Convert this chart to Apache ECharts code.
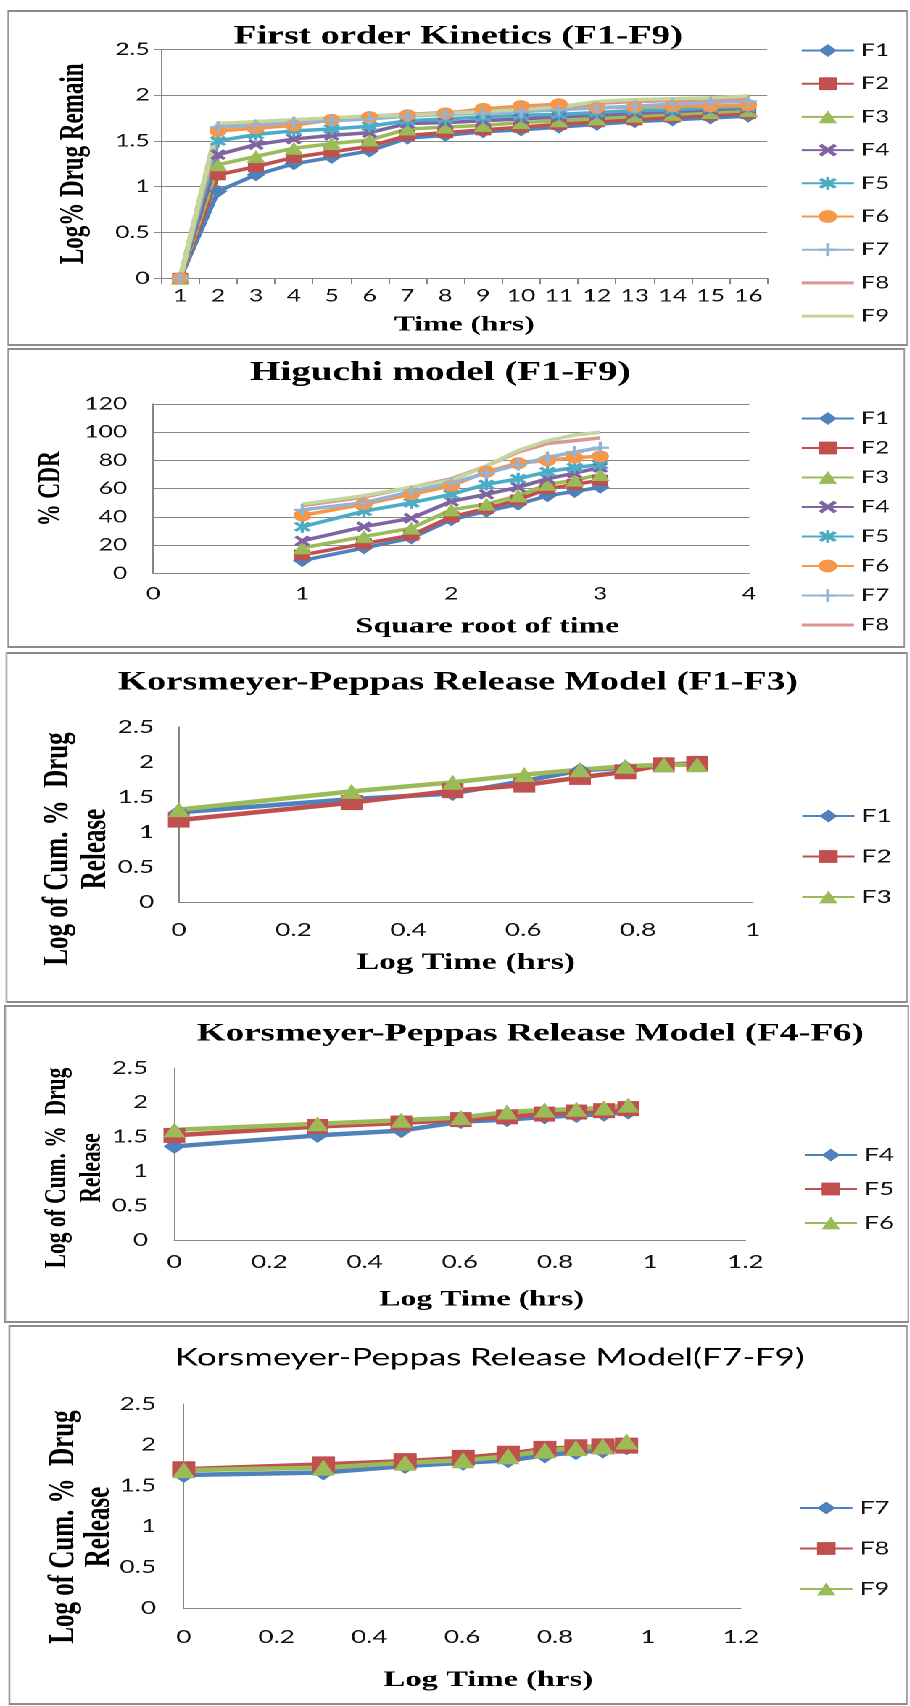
<!DOCTYPE html>
<html>
<head>
<meta charset="utf-8">
<script src="https://cdn.jsdelivr.net/npm/echarts@6/dist/echarts.min.js"></script>
<style>
html,body{margin:0;padding:0;background:#fff;width:910px;height:1706px;overflow:hidden;}
#wrap{position:absolute;left:0;top:0;height:1706px;transform-origin:0 0;}
.panel{position:absolute;box-sizing:border-box;border-style:solid;border-color:#8c8c8c;border-width:2px 1.4px;pointer-events:none;}
</style>
</head>
<body>
<div id="wrap"></div>
<script>
// ---------------- DATA ----------------
const seriesNames = ['F1','F2','F3','F4','F5','F6','F7','F8','F9'];

// First order kinetics: time (hrs) categories
const timeHours = ['1','2','3','4','5','6','7','8','9','10','11','12','13','14','15','16'];
const firstF1 = [0, 0.95, 1.13, 1.25, 1.32, 1.39, 1.53, 1.56, 1.60, 1.62, 1.65, 1.68, 1.71, 1.73, 1.75, 1.77];
const firstF2 = [0, 1.13, 1.22, 1.32, 1.38, 1.44, 1.56, 1.59, 1.62, 1.65, 1.68, 1.71, 1.73, 1.76, 1.78, 1.80];
const firstF3 = [0, 1.24, 1.33, 1.42, 1.47, 1.51, 1.63, 1.65, 1.67, 1.70, 1.72, 1.74, 1.77, 1.79, 1.81, 1.83];
const firstF4 = [0, 1.35, 1.46, 1.52, 1.56, 1.59, 1.69, 1.70, 1.72, 1.74, 1.76, 1.78, 1.80, 1.82, 1.84, 1.86];
const firstF5 = [0, 1.50, 1.57, 1.61, 1.63, 1.66, 1.72, 1.74, 1.76, 1.78, 1.79, 1.81, 1.83, 1.84, 1.86, 1.87];
const firstF6 = [0, 1.61, 1.64, 1.67, 1.73, 1.76, 1.78, 1.80, 1.85, 1.88, 1.90, 1.86, 1.87, 1.88, 1.88, 1.89];
const firstF7 = [0, 1.65, 1.67, 1.70, 1.72, 1.74, 1.77, 1.79, 1.80, 1.82, 1.84, 1.86, 1.88, 1.90, 1.92, 1.93];
const firstF8 = [0, 1.68, 1.71, 1.73, 1.75, 1.77, 1.79, 1.81, 1.83, 1.86, 1.88, 1.91, 1.93, 1.94, 1.95, 1.96];
const firstF9 = [0, 1.69, 1.71, 1.73, 1.75, 1.77, 1.78, 1.80, 1.82, 1.84, 1.87, 1.93, 1.95, 1.96, 1.97, 1.99];

// Higuchi model: square root of time vs % CDR
const sqrtTime = [1, 1.414, 1.732, 2, 2.236, 2.449, 2.646, 2.828, 3];
const higF1 = [9, 18, 25, 38, 44, 49, 55, 58, 61];
const higF2 = [13, 21, 27, 40, 46, 52, 60, 63, 66];
const higF3 = [18, 26, 32, 45, 49, 55, 63, 66, 70];
const higF4 = [23, 33, 39, 51, 56, 61, 67, 71, 75];
const higF5 = [33, 44, 50, 56, 63, 67, 72, 75, 77];
const higF6 = [41, 49, 56, 62, 72, 78, 80, 82, 83];
const higF7 = [45, 50, 58, 64, 71, 77, 82, 86, 89];
const higF8 = [48, 54, 61, 67, 76, 86, 92, 94, 96];
const higF9 = [49, 55, 61, 66, 76, 87, 94, 98, 100];

// Korsmeyer-Peppas: log time vs log cumulative % drug release
const logTime8 = [0, 0.301, 0.477, 0.602, 0.699, 0.778, 0.845, 0.903];
const kpF1 = [1.28, 1.47, 1.55, 1.73, 1.88, 1.92, 1.96, 1.98];
const kpF2 = [1.17, 1.42, 1.59, 1.67, 1.78, 1.86, 1.96, 1.98];
const kpF3 = [1.32, 1.58, 1.71, 1.82, 1.89, 1.94, 1.96, 1.96];
const logTime9 = [0, 0.301, 0.477, 0.602, 0.699, 0.778, 0.845, 0.903, 0.954];
const kpF4 = [1.36, 1.52, 1.59, 1.72, 1.75, 1.79, 1.81, 1.83, 1.86];
const kpF5 = [1.52, 1.65, 1.70, 1.75, 1.79, 1.83, 1.86, 1.88, 1.91];
const kpF6 = [1.60, 1.69, 1.74, 1.78, 1.86, 1.89, 1.90, 1.92, 1.96];
const kpF7 = [1.63, 1.66, 1.74, 1.78, 1.81, 1.87, 1.91, 1.93, 1.97];
const kpF8 = [1.70, 1.76, 1.80, 1.84, 1.89, 1.95, 1.97, 1.98, 1.99];
const kpF9 = [1.69, 1.72, 1.78, 1.81, 1.86, 1.93, 1.96, 1.98, 2.04];

// ---------------- STYLE ----------------
const S = 1.45;              // horizontal stretch of the original figure
const COLORS9 = ['#4F81BD','#C0504D','#9BBB59','#8064A2','#4BACC6','#F79646','#95B3D7','#D99694','#C3D69B'];
const COLORS3 = ['#4F81BD','#C0504D','#9BBB59'];
const XPATH = 'path://M0,1.8L1.8,0L5,3.2L8.2,0L10,1.8L6.8,5L10,8.2L8.2,10L5,6.8L1.8,10L0,8.2L3.2,5Z';
const STARPATH = 'path://M0,1.8L1.8,0L5,3.2L8.2,0L10,1.8L6.8,5L10,8.2L8.2,10L5,6.8L1.8,10L0,8.2L3.2,5Z M4.1,-1H5.9V11H4.1Z';
const PLUSPATH = 'path://M4.1,0H5.9V4.1H10V5.9H5.9V10H4.1V5.9H0V4.1H4.1Z';
const LINEICON = 'path://M0,0H12V1H0Z';
const SYMS9 = ['diamond','rect','triangle',XPATH,STARPATH,'circle',PLUSPATH,'none','none'];
const SIZES9 = [13, 11, 13, 11, 12, 12, 12, 0, 0];
const SYMS3 = ['diamond','rect','triangle'];
const GRAY = '#868686';
const SERIF = '"Liberation Serif", "Times New Roman", serif';
const SANS = 'Lato, "Noto Sans", sans-serif';

const wrap = document.getElementById('wrap');
wrap.style.width = (910 / S) + 'px';
wrap.style.transform = 'scaleX(' + S + ')';

const mctx = document.createElement('canvas').getContext('2d');
function textWidth(text, weight, size, family) {
  mctx.font = weight + ' ' + size + 'px ' + family;
  return mctx.measureText(text).width;
}

function makePanel(box, build) {
  const pos = 'left:' + (box.x0 / S) + 'px;top:' + box.y0 + 'px;width:' + ((box.x1 - box.x0) / S) + 'px;height:' + (box.y1 - box.y0) + 'px;';
  const div = document.createElement('div');
  div.style.cssText = 'position:absolute;' + pos;
  wrap.appendChild(div);
  const border = document.createElement('div');
  border.className = 'panel';
  border.style.cssText = pos;
  wrap.appendChild(border);
  const lx = x => (x - box.x0) / S;
  const ly = y => y - box.y0;
  const chart = echarts.init(div, null, { renderer: 'canvas', devicePixelRatio: 2 });
  chart.setOption(build(lx, ly));
}

function titleOpt(text, cx, cy, weight, size, family, lx, ly) {
  const w = textWidth(text, weight, size, family);
  const lh = Math.round(size * 1.2);
  return {
    text: text, left: lx(cx) - w / 2, top: ly(cy) - lh / 2, padding: 0,
    textStyle: { fontFamily: family, fontWeight: weight, fontSize: size, color: '#000', lineHeight: lh }
  };
}
function gridOpt(pl, pt, pr, pb, lx, ly) {
  return { left: lx(pl), top: ly(pt), width: (pr - pl) / S, height: pb - pt, containLabel: false };
}
function legendOpt(names, noMarker, left, top, gap, fs) {
  return {
    show: true, orient: 'vertical', left: left, top: top, itemWidth: 36, itemHeight: 16, itemGap: gap,
    selectedMode: false, padding: 0,
    data: names.map(n => noMarker.indexOf(n) >= 0 ? { name: n, icon: LINEICON } : n),
    textStyle: { fontFamily: SANS, fontSize: fs, color: '#111', lineHeight: 16 }
  };
}
function lineSeries(name, color, symbol, data, size, lw) {
  return {
    type: 'line', name: name, data: data,
    symbol: symbol, showSymbol: symbol !== 'none', symbolSize: size,
    lineStyle: { color: color, width: lw }, itemStyle: { color: color },
    emphasis: { disabled: true }, z: 2
  };
}
function vText(text, x, y, size) {
  const font = 'bold ' + size + 'px ' + SERIF;
  return {
    type: 'text', x: x, y: y, rotation: Math.PI / 2, silent: true,
    style: { text: text, font: font, fill: '#000', align: 'center', verticalAlign: 'middle',
             textAlign: 'center', textVerticalAlign: 'middle' }
  };
}
function pairs(xs, ys) { return xs.map((x, i) => [x, ys[i]]); }
const labelStyle = (fs, margin) => ({ fontFamily: SANS, fontSize: fs, color: '#111', margin: margin, lineHeight: fs });
const nameStyle = (fs, lh, padding) => ({ fontFamily: SERIF, fontWeight: 'bold', fontSize: fs, color: '#000', lineHeight: lh, padding: padding || 0 });

// ---------------- PANEL 1: First order ----------------
const firstSeries = [firstF1, firstF2, firstF3, firstF4, firstF5, firstF6, firstF7, firstF8, firstF9];
makePanel({ x0: 7, y0: 10, x1: 908, y1: 346 }, (lx, ly) => {
  const pl = 161, pr = 767, pt = 49.3, pb = 278.3;
  return {
    animation: false,
    title: titleOpt('First order Kinetics (F1-F9)', 458, 37, 'bold', 26, SERIF, lx, ly),
    grid: gridOpt(pl, pt, pr, pb, lx, ly),
    legend: legendOpt(seriesNames, ['F8', 'F9'], lx(800), ly(50) - 8, 32.2 - 16, 17),
    xAxis: {
      type: 'category', data: timeHours, boundaryGap: true,
      axisLine: { show: true, lineStyle: { color: GRAY, width: 1 } },
      axisTick: { show: true, interval: 0, length: 6, lineStyle: { color: GRAY } },
      axisLabel: Object.assign({ interval: 0 }, labelStyle(17, 9)),
      splitLine: { show: false },
      name: 'Time (hrs)', nameLocation: 'middle', nameGap: 325 - pb - 11, nameTextStyle: nameStyle(21.5, 22)
    },
    yAxis: {
      type: 'value', min: 0, max: 2.5, interval: 0.5,
      axisLine: { show: true, lineStyle: { color: GRAY, width: 1 } },
      axisTick: { show: true, length: 5, lineStyle: { color: GRAY } },
      axisLabel: labelStyle(17, 8),
      splitLine: { show: true, lineStyle: { color: GRAY, width: 1 } },
      name: 'Log% Drug Remain', nameLocation: 'middle', nameRotate: 90,
      nameGap: (pl - 74) / S - 12, nameTextStyle: nameStyle(23, 24)
    },
    series: firstSeries.map((d, i) => lineSeries(seriesNames[i], COLORS9[i], SYMS9[i], d, SIZES9[i], 3.5))
  };
});

// ---------------- PANEL 2: Higuchi ----------------
const higSeries = [higF1, higF2, higF3, higF4, higF5, higF6, higF7, higF8, higF9];
makePanel({ x0: 7, y0: 348, x1: 905, y1: 648 }, (lx, ly) => {
  const pl = 153, pr = 749, pt = 404, pb = 573.3;
  return {
    animation: false,
    title: titleOpt('Higuchi model (F1-F9)', 440, 373, 'bold', 27, SERIF, lx, ly),
    grid: gridOpt(pl, pt, pr, pb, lx, ly),
    legend: legendOpt(seriesNames.slice(0, 8), ['F8', 'F9'], lx(800), ly(418) - 8, 28.5 - 16, 17),
    xAxis: {
      type: 'value', min: 0, max: 4, interval: 1,
      axisLine: { show: true, lineStyle: { color: GRAY, width: 1 } },
      axisTick: { show: false },
      axisLabel: labelStyle(17, 12),
      splitLine: { show: false },
      name: 'Square root of time', nameLocation: 'middle', nameGap: 627 - pb - 11,
      nameTextStyle: nameStyle(22, 22, [0, 0, 0, 50])
    },
    yAxis: {
      type: 'value', min: 0, max: 120, interval: 20,
      axisLine: { show: true, lineStyle: { color: GRAY, width: 1 } },
      axisTick: { show: false },
      axisLabel: labelStyle(17, 18),
      splitLine: { show: true, lineStyle: { color: GRAY, width: 1 } },
      name: '% CDR', nameLocation: 'middle', nameRotate: 90,
      nameGap: (pl - 61) / S - 12, nameTextStyle: nameStyle(22, 24)
    },
    series: higSeries.map((d, i) => lineSeries(seriesNames[i], COLORS9[i], SYMS9[i], pairs(sqrtTime, d), SIZES9[i], 3.5))
  };
});

// ---------------- PANELS 3-5: Korsmeyer-Peppas ----------------
const KP_YNAME1 = 'Log of Cum. %  Drug';
const KP_YNAME2 = 'Release';
function kpPanel(box, cfg) {
  makePanel(box, (lx, ly) => {
    const { pl, pr, pt, pb } = cfg;
    return {
      animation: false,
      title: titleOpt(cfg.title, cfg.tx, cfg.ty, cfg.tWeight, cfg.tSize, cfg.tFamily, lx, ly),
      grid: gridOpt(pl, pt, pr, pb, lx, ly),
      legend: legendOpt(cfg.names, [], lx(cfg.legX), ly(cfg.legY) - 8, cfg.legGap - 16, 18),
      graphic: [
        vText(KP_YNAME1, lx(cfg.yName1X), ly(cfg.yNameY), cfg.yNameSize),
        vText(KP_YNAME2, lx(cfg.yName2X), ly(cfg.yNameY), cfg.yNameSize)
      ],
      xAxis: {
        type: 'value', min: 0, max: cfg.xMax, interval: 0.2,
        axisLine: { show: true, lineStyle: { color: GRAY, width: 1 } },
        axisTick: { show: false },
        axisLabel: labelStyle(18, cfg.xLabelMargin),
        splitLine: { show: false },
        name: 'Log Time (hrs)', nameLocation: 'middle', nameGap: cfg.xNameY - pb - 12,
        nameTextStyle: nameStyle(cfg.xNameSize, 24, [0, 0, 0, cfg.xNamePad])
      },
      yAxis: {
        type: 'value', min: 0, max: 2.5, interval: 0.5,
        axisLine: { show: true, lineStyle: { color: GRAY, width: 1 } },
        axisTick: { show: false },
        axisLabel: labelStyle(18, cfg.yLabelMargin),
        splitLine: { show: false }
      },
      series: cfg.data.map((d, i) => lineSeries(cfg.names[i], COLORS3[i], SYMS3[i], pairs(cfg.xs, d), cfg.sym, 4.5))
    };
  });
}

kpPanel({ x0: 6, y0: 652, x1: 908, y1: 1003 }, {
  title: 'Korsmeyer-Peppas Release Model (F1-F3)', tx: 458, ty: 683, tWeight: 'bold', tSize: 26, tFamily: SERIF,
  pl: 179, pr: 753, pt: 727, pb: 902, xMax: 1,
  names: ['F1', 'F2', 'F3'], data: [kpF1, kpF2, kpF3], xs: logTime8,
  legX: 801, legY: 815, legGap: 38.5,
  xLabelMargin: 19, yLabelMargin: 17, xNameY: 963, xNamePad: 0, xNameSize: 23.5,
  yName1X: 58, yName2X: 96, yNameY: 849, yNameSize: 25, sym: 15
});

kpPanel({ x0: 5, y0: 1005, x1: 909, y1: 1323 }, {
  title: 'Korsmeyer-Peppas Release Model (F4-F6)', tx: 531, ty: 1034, tWeight: 'bold', tSize: 25.5, tFamily: SERIF,
  pl: 175, pr: 746, pt: 1068, pb: 1240, xMax: 1.2,
  names: ['F4', 'F5', 'F6'], data: [kpF4, kpF5, kpF6], xs: logTime9,
  legX: 804, legY: 1154, legGap: 32,
  xLabelMargin: 13, yLabelMargin: 18, xNameY: 1300, xNamePad: 30, xNameSize: 22,
  yName1X: 58, yName2X: 93, yNameY: 1168, yNameSize: 21.5, sym: 15
});

kpPanel({ x0: 8, y0: 1325, x1: 907, y1: 1705 }, {
  title: 'Korsmeyer-Peppas Release Model(F7-F9)', tx: 489, ty: 1358, tWeight: 'normal', tSize: 24, tFamily: SANS,
  pl: 183, pr: 740, pt: 1404, pb: 1608, xMax: 1.2,
  names: ['F7', 'F8', 'F9'], data: [kpF7, kpF8, kpF9], xs: logTime9,
  legX: 798, legY: 1507, legGap: 38.5,
  xLabelMargin: 20, yLabelMargin: 19, xNameY: 1680, xNamePad: 36, xNameSize: 22.5,
  yName1X: 63, yName2X: 99, yNameY: 1527, yNameSize: 25, sym: 16
});
</script>
</body>
</html>
